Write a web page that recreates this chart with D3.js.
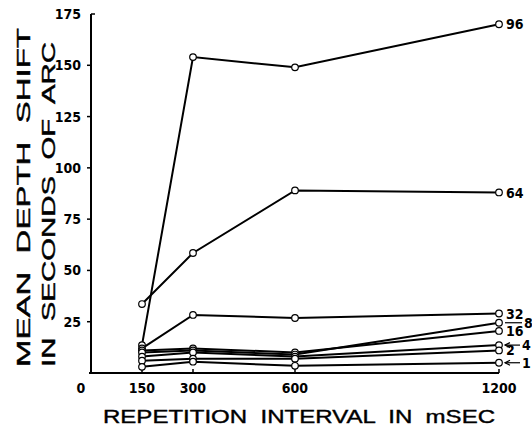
<!DOCTYPE html>
<meta charset="utf-8">
<style>
body { margin: 0; background: #fff; }
svg text.num {
  font-family: "Liberation Sans Narrow", "DejaVu Sans Condensed", sans-serif;
  font-weight: 700;
  font-size: 14px;
  fill: #000;
}
svg text.title {
  font-family: "Liberation Sans", Arial, sans-serif;
  font-size: 19px;
  fill: #000;
  stroke: #000;
  stroke-width: 0.4;
  white-space: pre;
}
</style>
<script src="https://d3js.org/d3.v7.min.js"></script>
<div id="chart"></div>
<script>

// repetition interval (msec) and the tick labels
var intervals = [150, 300, 600, 1200];
var xTicks = [0, 150, 300, 600, 1200];
var yTicks = [25, 50, 75, 100, 125, 150, 175];

// one line per disparity
var names = ["96", "64", "32", "16", "8", "4", "2", "1"];
var s96 = [13.6, 154, 149, 170];
var s64 = [33.6, 58.5, 89, 88];
var s32 = [12, 28.3, 26.8, 29];
var s16 = [11, 12, 10, 20.5];
var s8  = [10, 11, 9, 24.5];
var s4  = [8, 10, 8, 13.6];
var s2  = [6, 7, 7, 11];
var s1  = [3, 5.5, 3.5, 5];
var values = [s96, s64, s32, s16, s8, s4, s2, s1];

var width = 532, height = 430;

var svg = d3.select("#chart")
  .append("svg")
    .attr("width", width)
    .attr("height", height);

var x = d3.scaleLinear().domain([0, 1200]).range([91, 499]);
var y = d3.scaleLinear().domain([0, 175]).range([373, 14]);

// axes
svg.append("line")
  .attr("x1", x(0)).attr("x2", x(0))
  .attr("y1", y(175)).attr("y2", y(0))
  .attr("stroke", "#000").attr("stroke-width", 2);
svg.append("line")
  .attr("x1", x(0) - 2).attr("x2", x(1200))
  .attr("y1", y(0)).attr("y2", y(0))
  .attr("stroke", "#000").attr("stroke-width", 2);

// y ticks: left ticks, the top one points right
svg.selectAll(".ytick")
  .data(yTicks)
  .enter().append("line")
    .attr("x1", function(d) { return d == 175 ? x(0) : x(0) - 4; })
    .attr("x2", function(d) { return d == 175 ? x(0) + 4 : x(0); })
    .attr("y1", function(d) { return y(d); })
    .attr("y2", function(d) { return y(d); })
    .attr("stroke", "#000").attr("stroke-width", 1.5);

svg.selectAll(".ylab")
  .data(yTicks)
  .enter().append("text")
    .attr("class", "num")
    .attr("text-anchor", "end")
    .attr("x", x(0) - 10)
    .attr("y", function(d) { return y(d); })
    .attr("dy", "0.36em")
    .text(function(d) { return d; });

// x ticks point up into the plot
svg.selectAll(".xtick")
  .data(intervals)
  .enter().append("line")
    .attr("x1", function(d) { return x(d); })
    .attr("x2", function(d) { return x(d); })
    .attr("y1", y(0))
    .attr("y2", y(0) - 4)
    .attr("stroke", "#000").attr("stroke-width", 1.5);

svg.selectAll(".xlab")
  .data(xTicks)
  .enter().append("text")
    .attr("class", "num")
    .attr("text-anchor", "middle")
    .attr("x", function(d) { return d == 0 ? x(d) - 10 : x(d); })
    .attr("y", 393)
    .text(function(d) { return d; });

// titles
svg.append("text")
  .attr("class", "title")
  .attr("x", 103).attr("y", 423)
  .attr("textLength", 392)
  .attr("lengthAdjust", "spacingAndGlyphs")
  .text("REPETITION  INTERVAL  IN  mSEC");

svg.append("text")
  .attr("class", "title")
  .attr("transform", "translate(30,367) rotate(-90)")
  .attr("textLength", 339)
  .attr("lengthAdjust", "spacingAndGlyphs")
  .text("MEAN  DEPTH  SHIFT");

svg.append("text")
  .attr("class", "title")
  .attr("transform", "translate(55,367) rotate(-90)")
  .attr("textLength", 325)
  .attr("lengthAdjust", "spacingAndGlyphs")
  .text("IN  SECONDS  OF  ARC");

// lines
var line = d3.line()
  .x(function(d, i) { return x(intervals[i]); })
  .y(function(d) { return y(d); });

svg.selectAll(".series")
  .data(values)
  .enter().append("path")
    .attr("d", line)
    .attr("fill", "none")
    .attr("stroke", "#000")
    .attr("stroke-width", 2);

values.forEach(function(vals) {
  svg.selectAll(null)
    .data(vals)
    .enter().append("circle")
      .attr("cx", function(d, i) { return x(intervals[i]); })
      .attr("cy", function(d) { return y(d); })
      .attr("r", 3.3)
      .attr("fill", "#fff")
      .attr("stroke", "#000")
      .attr("stroke-width", 1.2);
});

// end labels
var xe = x(1200);
names.forEach(function(name, k) {
  var v = values[k][3];
  var pointer = (name == "8" || name == "4" || name == "1");
  if (pointer) {
    svg.append("line")
      .attr("x1", xe + 6).attr("x2", name == "8" ? xe + 23 : xe + 21)
      .attr("y1", y(v)).attr("y2", y(v))
      .attr("stroke", "#000").attr("stroke-width", 1.2);
    if (name != "8") {
      svg.append("path")
        .attr("d", d3.line()([[xe + 11, y(v) - 2.5], [xe + 6, y(v)], [xe + 11, y(v) + 2.5]]))
        .attr("fill", "none")
        .attr("stroke", "#000").attr("stroke-width", 1.2);
    }
  }
  svg.append("text")
    .attr("class", "num")
    .attr("x", name == "8" ? xe + 25 : (pointer ? xe + 23 : xe + 7))
    .attr("y", y(v))
    .attr("dy", "0.36em")
    .text(name);
});

</script>
